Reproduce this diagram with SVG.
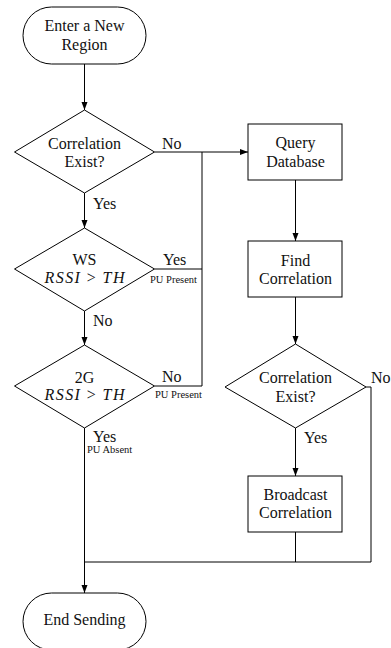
<svg xmlns="http://www.w3.org/2000/svg" width="391" height="648" viewBox="0 0 391 648">
<defs>
<marker id="ah" viewBox="0 0 8 8" refX="8" refY="4" markerWidth="8" markerHeight="8" markerUnits="userSpaceOnUse" orient="auto">
<path d="M0,1 L8,4 L0,7 Z" fill="#000"/>
</marker>
<style>
.s{fill:#fff;stroke:#000;stroke-width:1}
.t{font-family:"Liberation Serif","Times New Roman",serif;font-size:16px;fill:#111;text-anchor:middle}
.l{font-family:"Liberation Serif","Times New Roman",serif;font-size:16px;fill:#111}
.m{font-family:"Liberation Serif","Times New Roman",serif;font-size:10.5px;fill:#111}
.i{font-style:italic}
.c{fill:none;stroke:#000;stroke-width:1}
.a{marker-end:url(#ah)}
</style>
</defs>
<rect width="391" height="648" fill="#fff"/>
<g id="connectors">
<path class="c a" d="M84.5,64 V110"/>
<path class="c a" d="M84.5,193 V228"/>
<path class="c a" d="M84.5,311 V345"/>
<path class="c a" d="M84.5,428 V593"/>
<path class="c a" d="M154.5,152 H248"/>
<path class="c" d="M154.5,269 H202 V152"/>
<path class="c" d="M154.5,386 H202 V269"/>
<path class="c a" d="M295.5,180 V241"/>
<path class="c a" d="M295.5,297 V344"/>
<path class="c a" d="M295.5,428 V476"/>
<path class="c" d="M366,387 H371 V562 H84.5"/>
<path class="c" d="M295.5,532 V562"/>
</g>
<g id="labels">
<text class="l" x="162" y="149">No</text>
<text class="l" x="93" y="209">Yes</text>
<text class="l" x="163" y="265">Yes</text>
<text class="m" x="150" y="283">PU Present</text>
<text class="l" x="93" y="326">No</text>
<text class="l" x="162" y="382">No</text>
<text class="m" x="155" y="398">PU Present</text>
<text class="l" x="93" y="442">Yes</text>
<text class="m" x="87" y="453">PU Absent</text>
<text class="l" x="371" y="383">No</text>
<text class="l" x="304" y="443">Yes</text>
</g>
<g id="start">
<rect class="s" x="23" y="7" width="123" height="57" rx="28.5" ry="28.5"/>
<text class="t" x="84.5" y="31">Enter a New</text>
<text class="t" x="84.5" y="50">Region</text>
</g>
<g id="corr1">
<polygon class="s" points="84.5,110 154.5,152 84.5,193 14.5,152"/>
<text class="t" x="84.5" y="149">Correlation</text>
<text class="t" x="84.5" y="167">Exist?</text>
</g>
<g id="ws">
<polygon class="s" points="84.5,228 154.5,269 84.5,311 14.5,269"/>
<text class="t" x="84.5" y="265">WS</text>
<text class="t" x="84.5" y="283" textLength="80" lengthAdjust="spacing"><tspan class="i">RSSI</tspan> &gt; <tspan class="i">TH</tspan></text>
</g>
<g id="g2">
<polygon class="s" points="84.5,345 154.5,386 84.5,428 14.5,386"/>
<text class="t" x="84.5" y="383">2G</text>
<text class="t" x="84.5" y="400" textLength="80" lengthAdjust="spacing"><tspan class="i">RSSI</tspan> &gt; <tspan class="i">TH</tspan></text>
</g>
<g id="query">
<rect class="s" x="248" y="124" width="94" height="56"/>
<text class="t" x="295.5" y="148">Query</text>
<text class="t" x="295.5" y="167">Database</text>
</g>
<g id="find">
<rect class="s" x="248" y="241" width="94" height="56"/>
<text class="t" x="295.5" y="266">Find</text>
<text class="t" x="295.5" y="284">Correlation</text>
</g>
<g id="corr2">
<polygon class="s" points="295.5,344 366,387 295.5,428 225,387"/>
<text class="t" x="295.5" y="383">Correlation</text>
<text class="t" x="295.5" y="402">Exist?</text>
</g>
<g id="broadcast">
<rect class="s" x="248" y="476" width="94" height="56"/>
<text class="t" x="295.5" y="500">Broadcast</text>
<text class="t" x="295.5" y="518">Correlation</text>
</g>
<g id="end">
<rect class="s" x="23" y="593" width="123" height="57" rx="28.5" ry="28.5"/>
<text class="t" x="84.5" y="625">End Sending</text>
</g>
</svg>
